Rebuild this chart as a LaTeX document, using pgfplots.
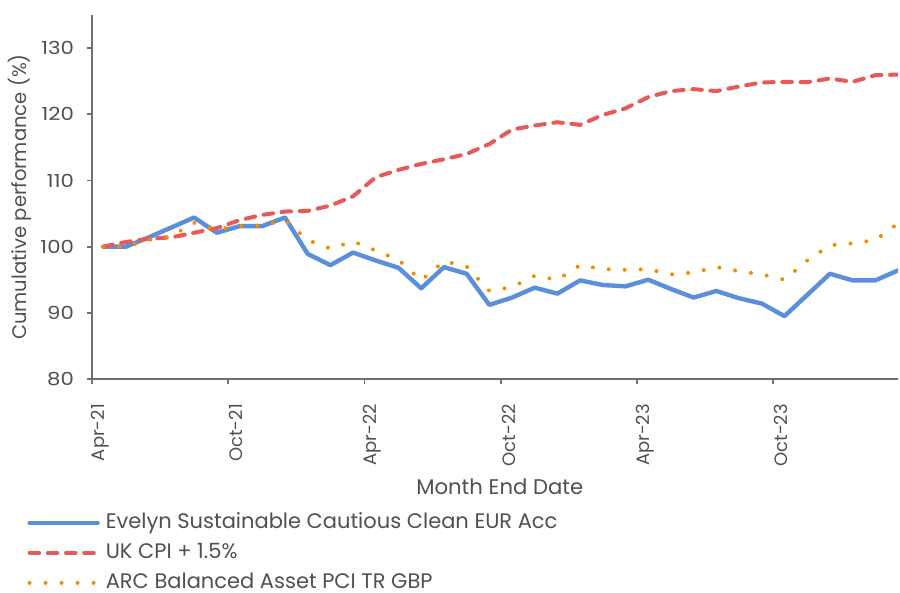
\documentclass[border=0pt]{standalone}
\usepackage{pgfplots}
\pgfplotsset{compat=1.18}
\usepackage{fontspec}
\setmainfont{Poppins}
\newfontfamily\ytickfont[FakeStretch=1.18]{Poppins}
\definecolor{cblue}{HTML}{5B8EDB}
\definecolor{cred}{HTML}{E85A5A}
\definecolor{corange}{HTML}{F28C00}
\definecolor{ctext}{HTML}{505050}
\definecolor{caxis}{HTML}{707070}
\begin{document}
\begin{tikzpicture}
\path[use as bounding box] (-46pt,-107pt) rectangle (404pt,189.5pt);
\begin{axis}[
  scale only axis, width=403pt, height=182pt,
  at={(0pt,0pt)}, anchor=origin,
  xmin=0, xmax=35.5, ymin=80, ymax=135,
  axis lines*=left,
  axis line style={draw=caxis, line width=0.9pt, -},
  tick style={draw=caxis, line width=0.9pt},
  tick align=outside, major tick length=2.5pt,
  xtick={0,6,12,18,24,30},
  xticklabels={Apr-21,Oct-21,Apr-22,Oct-22,Apr-23,Oct-23},
  ytick={80,90,...,130},
  /pgf/number format/assume math mode=true,
  font=\fontsize{9pt}{11pt}\selectfont,
  ticklabel style={font=\fontsize{9pt}{11pt}\selectfont, text=ctext},
  xticklabel style={xshift=4pt, yshift=-6.5pt, rotate=90, anchor=east},
  yticklabel style={font=\ytickfont\fontsize{9pt}{11pt}\selectfont, xshift=-3pt},
  every axis x label/.style={at={(axis description cs:0.506,0)}, anchor=center, yshift=-54pt, font=\fontsize{10.6pt}{12pt}\selectfont},
  every axis y label/.style={at={(axis description cs:-0.0893,0.5)}, anchor=center, rotate=90, font=\fontsize{9.8pt}{12pt}\selectfont},
  xlabel={Month End Date}, ylabel={Cumulative performance (\%)},
  label style={text=ctext},
  legend cell align=left,
  legend style={draw=none, fill=none, at={(axis description cs:0,0)}, anchor=north west,
    xshift=-32.5pt, yshift=-67pt, inner sep=0pt, row sep=5.5pt,
    font=\fontsize{10.5pt}{12pt}\selectfont, text=ctext,
    nodes={inner sep=0pt, text height=7.5pt, text depth=2pt},
    /tikz/every odd column/.append style={column sep=3pt}},
  legend image code/.code={\draw[#1] (0pt,0pt) -- (34pt,0pt);},
]
\addplot[cblue, line width=2.2pt, line join=round, line cap=round] coordinates {
(0.5,100.0)(1.5,100.0)(2.5,101.4)(3.5,102.9)(4.5,104.4)(5.5,102.1)(6.5,103.1)(7.5,103.1)
(8.5,104.4)(9.5,98.9)(10.5,97.2)(11.5,99.1)(12.5,97.9)(13.5,96.8)(14.5,93.7)(15.5,96.9)
(16.5,95.9)(17.5,91.2)(18.5,92.3)(19.5,93.8)(20.5,92.9)(21.5,94.9)(22.5,94.2)(23.5,94.0)
(24.5,95.0)(25.5,93.6)(26.5,92.3)(27.5,93.3)(28.5,92.2)(29.5,91.4)(30.5,89.5)(31.5,92.7)
(32.5,95.9)(33.5,94.9)(34.5,94.9)(35.5,96.4)};
\addlegendentry{Evelyn Sustainable Cautious Clean EUR Acc}
\addplot[cred, line width=2pt, line cap=round, line join=round, dash pattern=on 4.8pt off 4.3pt] coordinates {
(0.5,100.0)(1.5,100.7)(2.5,101.2)(3.5,101.4)(4.5,102.1)(5.5,102.8)(6.5,104.0)(7.5,104.8)
(8.5,105.3)(9.5,105.4)(10.5,106.2)(11.5,107.6)(12.5,110.5)(13.5,111.6)(14.5,112.5)(15.5,113.2)
(16.5,114.0)(17.5,115.5)(18.5,117.7)(19.5,118.3)(20.5,118.8)(21.5,118.4)(22.5,119.9)(23.5,120.9)
(24.5,122.6)(25.5,123.5)(26.5,123.8)(27.5,123.5)(28.5,124.2)(29.5,124.8)(30.5,124.9)(31.5,124.85)
(32.5,125.4)(33.5,124.9)(34.5,125.9)(35.5,126.0)};
\addlegendentry{UK CPI + 1.5\%}
\addplot[corange, line width=2pt, line cap=round, line join=round, dash pattern=on 0pt off 8pt] coordinates {
(0.5,100.0)(1.5,100.0)(2.5,101.0)(3.5,101.6)(4.5,103.6)(5.5,102.6)(6.5,103.1)(7.5,103.2)
(8.5,104.0)(9.5,101.0)(10.5,99.7)(11.5,100.8)(12.5,99.4)(13.5,98.0)(14.5,94.9)(15.5,97.8)
(16.5,97.0)(17.5,93.3)(18.5,93.9)(19.5,95.6)(20.5,95.0)(21.5,97.2)(22.5,96.6)(23.5,96.5)
(24.5,96.6)(25.5,95.8)(26.5,96.1)(27.5,96.9)(28.5,96.3)(29.5,95.8)(30.5,95.0)(31.5,97.9)
(32.5,100.2)(33.5,100.5)(34.5,101.0)(35.5,103.5)};
\addlegendentry{ARC Balanced Asset PCI TR GBP}
\end{axis}
\end{tikzpicture}
\end{document}
